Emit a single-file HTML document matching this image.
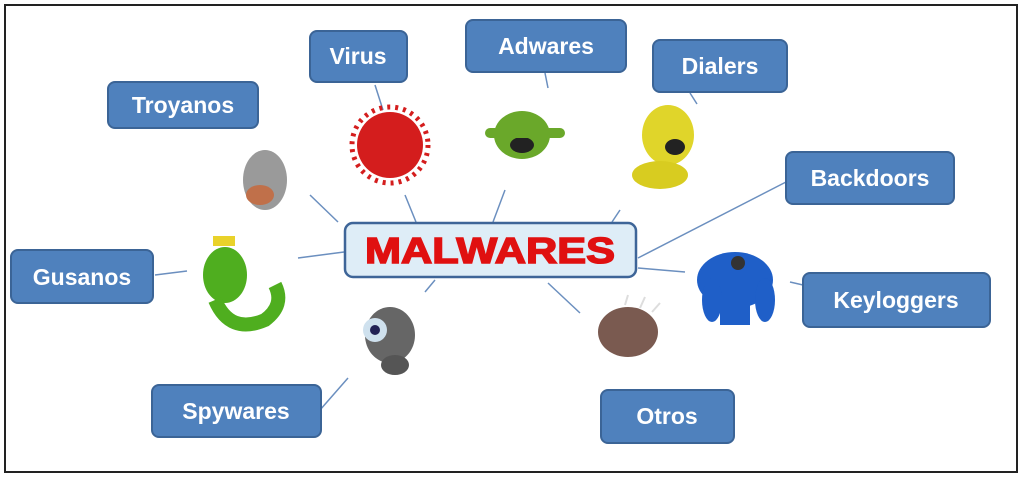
<!DOCTYPE html>
<html><head><meta charset="utf-8"><style>
html,body{margin:0;padding:0;background:#fff;}
svg{display:block}
text{font-family:"Liberation Sans",sans-serif;font-weight:bold}
</style></head><body>
<svg width="1024" height="481" viewBox="0 0 1024 481" xmlns="http://www.w3.org/2000/svg">
<rect x="5" y="5" width="1012" height="467" fill="#fff" stroke="#222" stroke-width="2"/>
<g stroke="#6b8fbf" stroke-width="1.5">
<line x1="310" y1="195" x2="338" y2="222"/>
<line x1="375" y1="85" x2="383" y2="110"/>
<line x1="405" y1="195" x2="416" y2="222"/>
<line x1="545" y1="73" x2="548" y2="88"/>
<line x1="505" y1="190" x2="493" y2="222"/>
<line x1="690" y1="93" x2="697" y2="104"/>
<line x1="620" y1="210" x2="612" y2="222"/>
<line x1="786" y1="182" x2="638" y2="258"/>
<line x1="155" y1="275" x2="187" y2="271"/>
<line x1="298" y1="258" x2="344" y2="252"/>
<line x1="638" y1="268" x2="685" y2="272"/>
<line x1="790" y1="282" x2="803" y2="285"/>
<line x1="320" y1="410" x2="348" y2="378"/>
<line x1="435" y1="280" x2="425" y2="292"/>
<line x1="548" y1="283" x2="580" y2="313"/>
</g>
<g>
<ellipse cx="265" cy="180" rx="22" ry="30" fill="#9a9a9a"/><ellipse cx="260" cy="195" rx="14" ry="10" fill="#c0704a"/>
<circle cx="390" cy="145" r="33" fill="#d41d1d"/><circle cx="390" cy="145" r="38" fill="none" stroke="#d41d1d" stroke-width="5" stroke-dasharray="3 5"/>
<ellipse cx="522" cy="135" rx="28" ry="24" fill="#6aa82a"/><ellipse cx="522" cy="145" rx="12" ry="8" fill="#222"/><rect x="485" y="128" width="80" height="10" rx="5" fill="#6aa82a"/>
<ellipse cx="668" cy="135" rx="26" ry="30" fill="#e0d52a"/><ellipse cx="660" cy="175" rx="28" ry="14" fill="#d8cc20"/><ellipse cx="675" cy="147" rx="10" ry="8" fill="#222"/>
<ellipse cx="225" cy="275" rx="22" ry="28" fill="#4fae1f"/><path d="M215 300 Q230 335 265 320 Q285 305 275 285" fill="none" stroke="#4fae1f" stroke-width="14"/><rect x="213" y="236" width="22" height="10" fill="#e9d22a"/>
<ellipse cx="735" cy="280" rx="38" ry="28" fill="#1f5fc8"/><ellipse cx="712" cy="300" rx="10" ry="22" fill="#1f5fc8"/><ellipse cx="765" cy="300" rx="10" ry="22" fill="#1f5fc8"/><rect x="720" y="295" width="30" height="30" fill="#1f5fc8"/><circle cx="738" cy="263" r="7" fill="#333"/>
<ellipse cx="390" cy="335" rx="25" ry="28" fill="#666"/><circle cx="375" cy="330" r="12" fill="#cfe1ee"/><circle cx="375" cy="330" r="5" fill="#225"/><ellipse cx="395" cy="365" rx="14" ry="10" fill="#555"/>
<ellipse cx="628" cy="332" rx="30" ry="25" fill="#7a5a50"/><g stroke="#ddd" stroke-width="2"><line x1="625" y1="305" x2="628" y2="295"/><line x1="640" y1="308" x2="645" y2="297"/><line x1="652" y1="312" x2="660" y2="303"/></g>
</g>
<g fill="#4f81bd" stroke="#3b6496" stroke-width="2">
<rect x="310" y="31" width="97" height="51" rx="7"/>
<rect x="466" y="20" width="160" height="52" rx="7"/>
<rect x="653" y="40" width="134" height="52" rx="7"/>
<rect x="108" y="82" width="150" height="46" rx="7"/>
<rect x="786" y="152" width="168" height="52" rx="7"/>
<rect x="11" y="250" width="142" height="53" rx="7"/>
<rect x="803" y="273" width="187" height="54" rx="7"/>
<rect x="152" y="385" width="169" height="52" rx="7"/>
<rect x="601" y="390" width="133" height="53" rx="7"/>
</g>
<rect x="345" y="223" width="291" height="54" rx="8" fill="#deedf7" stroke="#3e6598" stroke-width="2.5"/>
<g fill="#fff" font-size="23" text-anchor="middle">
<text x="358" y="64">Virus</text>
<text x="546" y="54">Adwares</text>
<text x="720" y="74">Dialers</text>
<text x="183" y="113">Troyanos</text>
<text x="870" y="186">Backdoors</text>
<text x="82" y="285">Gusanos</text>
<text x="896" y="308">Keyloggers</text>
<text x="236" y="419">Spywares</text>
<text x="667" y="424">Otros</text>
</g>
<text x="490" y="263" fill="#e01010" stroke="#e01010" stroke-width="1.5" font-size="36" text-anchor="middle" textLength="250" lengthAdjust="spacingAndGlyphs">MALWARES</text>
</svg>
</body></html>
